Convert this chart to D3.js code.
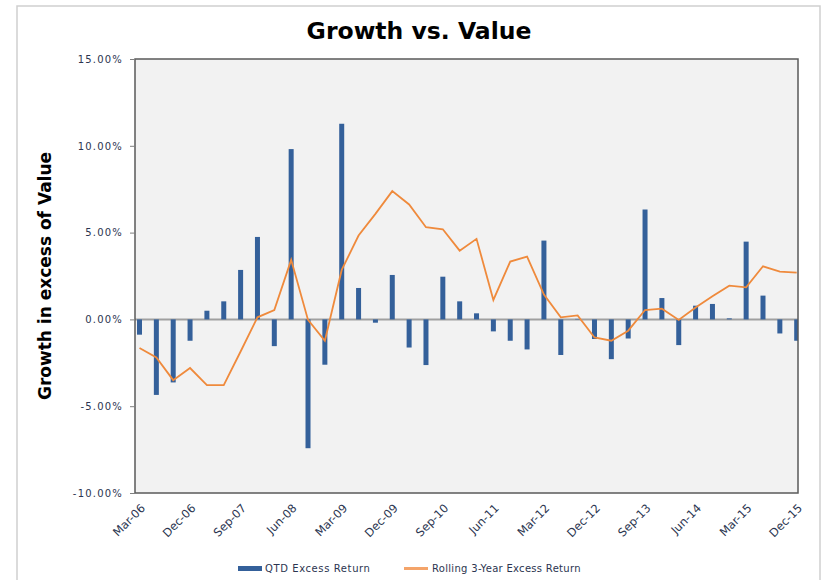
<!DOCTYPE html>
<meta charset="utf-8">
<html>
<head>
<title>Growth vs. Value</title>
<script src="https://d3js.org/d3.v7.min.js"></script>
<style>
body { margin: 0; background: #fff; }
text { font-family: "DejaVu Sans", Verdana, sans-serif; }
</style>
</head>
<body>
<div id="chart"></div>
<script>
// quarters Mar-06 .. Dec-15
var quarters = [];
var months = ["Mar", "Jun", "Sep", "Dec"];
for (var yr = 6; yr <= 15; yr++) {
  months.forEach(function (m) { quarters.push(m + "-" + (yr < 10 ? "0" + yr : yr)); });
}

// QTD Excess Return (%)
var qtdReturn = [
  -0.88, -4.35, -3.63, -1.23, 0.50, 1.04, 2.85, 4.75, -1.54, 9.81,
  -7.42, -2.61, 11.27, 1.81, -0.19, 2.56, -1.62, -2.63, 2.46, 1.04,
  0.35, -0.69, -1.23, -1.73, 4.54, -2.05, 0.03, -1.13, -2.29, -1.10,
  6.33, 1.23, -1.48, 0.79, 0.89, 0.06, 4.48, 1.37, -0.81, -1.23
];

// Rolling 3-Year Excess Return (%)
var rolling3y = [
  -1.65, -2.19, -3.50, -2.80, -3.79, -3.79, -1.85, 0.12, 0.54, 3.43,
  -0.03, -1.23, 2.85, 4.83, 6.08, 7.39, 6.62, 5.31, 5.19, 3.96,
  4.64, 1.12, 3.33, 3.62, 1.43, 0.12, 0.23, -1.04, -1.23, -0.65,
  0.54, 0.62, -0.03, 0.69, 1.33, 1.94, 1.85, 3.06, 2.75, 2.69
];

var yTicks = [-10, -5, 0, 5, 10, 15];

var W = 825, H = 580;
var plot = { left: 135, right: 798, top: 59, bottom: 493 };

var svg = d3.select("#chart").append("svg")
  .attr("width", W)
  .attr("height", H);

// outer chart frame
svg.append("rect")
  .attr("x", 17).attr("y", 6)
  .attr("width", 803).attr("height", 590)
  .attr("fill", "#fff")
  .attr("stroke", "#cfcfcf")
  .attr("stroke-width", 1.5);

var x = d3.scalePoint()
  .domain(quarters)
  .range([139.5, 796.7]);

var y = d3.scaleLinear()
  .domain([-10, 15])
  .range([plot.bottom, plot.top]);

// plot area
svg.append("rect")
  .attr("x", plot.left).attr("y", plot.top)
  .attr("width", plot.right - plot.left)
  .attr("height", plot.bottom - plot.top)
  .attr("fill", "#f2f2f2");

svg.append("clipPath").attr("id", "clip")
  .append("rect")
  .attr("x", plot.left).attr("y", plot.top)
  .attr("width", plot.right - plot.left)
  .attr("height", plot.bottom - plot.top);

var g = svg.append("g").attr("clip-path", "url(#clip)");

// zero line
g.append("line")
  .attr("x1", plot.left).attr("x2", plot.right)
  .attr("y1", y(0)).attr("y2", y(0))
  .attr("stroke", "#a0a0a0")
  .attr("stroke-width", 2);

// bars
var barW = 5;
g.selectAll(".bar")
  .data(qtdReturn)
  .enter()
  .append("rect")
  .attr("class", "bar")
  .attr("x", function (d, i) { return x(quarters[i]) - barW / 2; })
  .attr("y", function (d) { return y(Math.max(0, d)); })
  .attr("width", barW)
  .attr("height", function (d) { return Math.abs(y(d) - y(0)); })
  .attr("fill", "#34609a");

// rolling line
var line = d3.line()
  .x(function (d, i) { return x(quarters[i]); })
  .y(function (d) { return y(d); });

g.append("path")
  .datum(rolling3y)
  .attr("d", line)
  .attr("fill", "none")
  .attr("stroke", "#ef8a3c")
  .attr("stroke-width", 1.8);

// plot border
svg.append("rect")
  .attr("x", plot.left).attr("y", plot.top)
  .attr("width", plot.right - plot.left)
  .attr("height", plot.bottom - plot.top)
  .attr("fill", "none")
  .attr("stroke", "#5a5a5a")
  .attr("stroke-width", 1.5);

// y axis
var yAxis = d3.axisLeft(y)
  .tickValues(yTicks)
  .tickSize(5)
  .tickPadding(7)
  .tickFormat(function (d) { return d.toFixed(2) + "%"; });

var ya = svg.append("g")
  .attr("transform", "translate(" + plot.left + ",0)")
  .call(yAxis);
ya.select(".domain").remove();
ya.selectAll("line").attr("stroke", "#7f7f7f");
ya.selectAll("text")
  .style("font-size", "10px")
  .style("letter-spacing", "1.2px")
  .attr("fill", "#2b3550");

// x axis labels, every third quarter
var xAxis = d3.axisBottom(x)
  .tickValues(quarters.filter(function (d, i) { return i % 3 === 0; }))
  .tickSize(0)
  .tickPadding(0);

var xa = svg.append("g")
  .attr("transform", "translate(0," + plot.bottom + ")")
  .call(xAxis);
xa.select(".domain").remove();
xa.selectAll("text")
  .style("font-size", "11.5px")
  .style("text-anchor", "end")
  .attr("fill", "#2b3550")
  .attr("dy", "0.35em")
  .attr("transform", "translate(3,13) rotate(-45)");

// title
svg.append("text")
  .attr("x", 419)
  .attr("y", 39)
  .attr("text-anchor", "middle")
  .style("font-size", "23.5px")
  .style("font-weight", "bold")
  .attr("fill", "#000")
  .text("Growth vs. Value");

// y axis title
svg.append("text")
  .attr("transform", "translate(51,276) rotate(-90)")
  .attr("text-anchor", "middle")
  .style("font-size", "17px")
  .style("font-weight", "bold")
  .attr("fill", "#000")
  .text("Growth in excess of Value");

// legend
var legend = svg.append("g");
legend.append("rect")
  .attr("x", 238).attr("y", 566)
  .attr("width", 24).attr("height", 5)
  .attr("fill", "#34609a");
legend.append("text")
  .attr("x", 265).attr("y", 572)
  .style("font-size", "10px")
  .style("letter-spacing", "0.6px")
  .attr("fill", "#2b3550")
  .text("QTD Excess Return");
legend.append("line")
  .attr("x1", 404).attr("x2", 428)
  .attr("y1", 568.5).attr("y2", 568.5)
  .attr("stroke", "#f4a46a")
  .attr("stroke-width", 3);
legend.append("text")
  .attr("x", 432).attr("y", 572)
  .style("font-size", "10px")
  .style("letter-spacing", "0.3px")
  .attr("fill", "#2b3550")
  .text("Rolling 3-Year Excess Return");
</script>
</body>
</html>
